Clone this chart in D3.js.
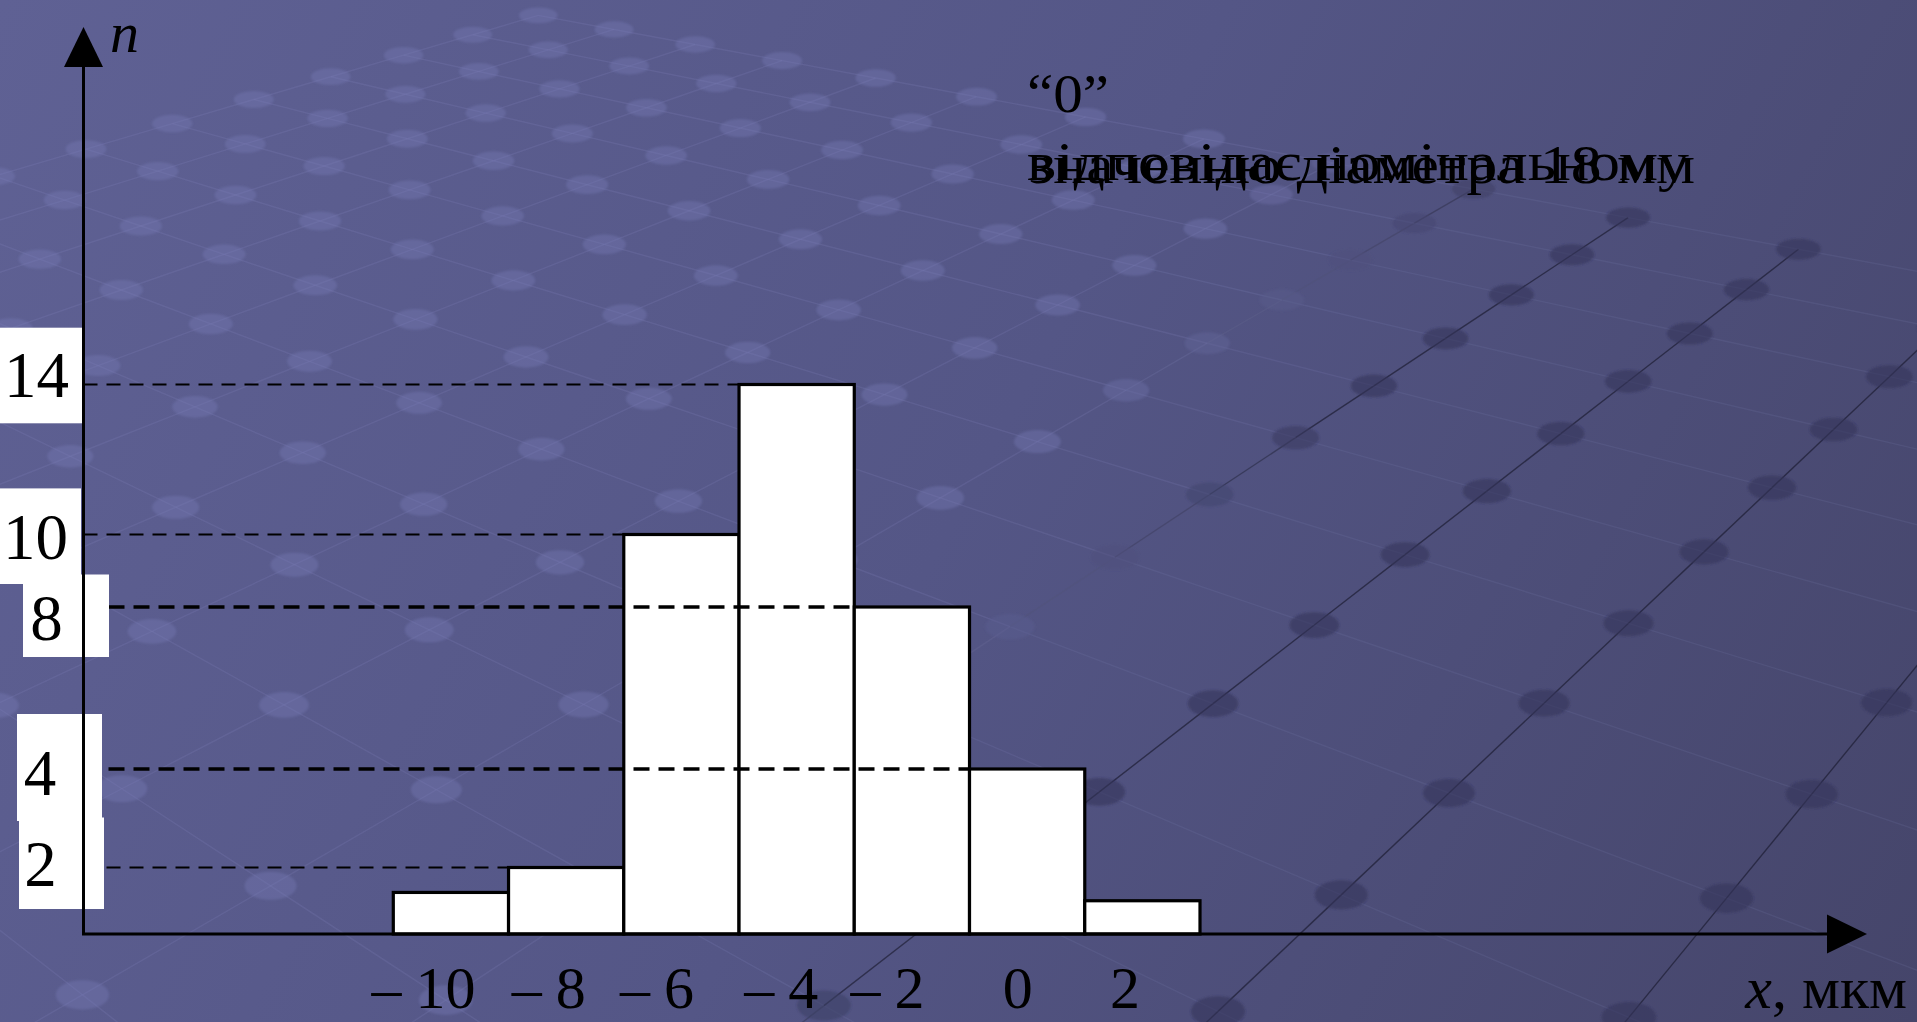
<!DOCTYPE html>
<html>
<head>
<meta charset="utf-8">
<script src="https://cdn.jsdelivr.net/npm/d3@7"></script>
<style>
  html, body { margin: 0; padding: 0; overflow: hidden; background: #535583; }
  svg { display: block; }
  text { font-family: "Liberation Serif", "DejaVu Serif", serif; fill: #000; }
</style>
</head>
<body>
<svg id="chart" width="1917" height="1022"></svg>
<script>
// ---- data: deviation classes (midpoints, µm) and their frequencies ----
const binCenters = [-10, -8, -6, -4, -2, 0, 2];
const binWidth = 2;
const counts = [1.25, 2, 10, 14, 8, 4, 1];
const yTickValues = [2, 4, 8, 10, 14];
const xTickValues = [-10, -8, -6, -4, -2, 0, 2];
const yAxisTitle = "n";
const xAxisTitle = "x";
const xAxisUnit = ", мкм";
const noteLines = ["“0”", "відповідає номінальному", "значенню діаметра 18 мм"];

// ---- layout ----
const W = 1917, H = 1022;
const axisX = 83.5, axisY = 934;
const yAxisTop = 27, xAxisEnd = 1867;
const arrowLen = 40, arrowHalf = 19.5;
// pixel stops of the (unevenly drawn) vertical axis, one per value in [0, ...yTickValues]
const yStops = [934, 867.5, 769, 607, 534.5, 384.5];
// per-label placement of the boxed vertical tick labels
const yLabelLayout = {
  14: { cx: 36.5, dy: 12,   x0: 0,  x1: 82.7, top: 68.8, bottom: 26.8 },
  10: { cx: 35.5, dy: 24.5, x0: 0,  x1: 81,   top: 70.6, bottom: 25 },
  8:  { cx: 46.5, dy: 32.5, x0: 23, x1: 109,  top: 65,   bottom: 17.5 },
  4:  { cx: 40,   dy: 25.6, x0: 17, x1: 102,  top: 80.6, bottom: 26.4 },
  2:  { cx: 40.5, dy: 18.5, x0: 19, x1: 104,  top: 68.5, bottom: 23 }
};
const guideWidth = { 14: 2.2, 10: 2.2, 8: 3.6, 4: 3.4, 2: 2.2 };
const xLabelNudge = [-6, 4, -3, 6, -3, -10, -18];
const labelFont = 60;

const svg = d3.select("#chart");
const defs = svg.append("defs");

// ---- slide background: diagonal gradient ----
const bg = defs.append("linearGradient").attr("id", "bgGrad")
  .attr("gradientUnits", "userSpaceOnUse")
  .attr("x1", 0).attr("y1", 0).attr("x2", W).attr("y2", H);
bg.append("stop").attr("offset", 0).attr("stop-color", "#5f6194");
bg.append("stop").attr("offset", 0.5).attr("stop-color", "#545686");
bg.append("stop").attr("offset", 1).attr("stop-color", "#45456a");
svg.append("rect").attr("width", W).attr("height", H).attr("fill", "url(#bgGrad)");

defs.append("filter").attr("id", "soft")
  .append("feGaussianBlur").attr("stdDeviation", 1.3);

// ---- decorative perspective lattice of lines and dots ----
// a plane seen in perspective: u runs towards vanishing point VA, v towards VB
const VA = [-1700, -400], VB = [3060, -730], O = [1449, 793];
const k1 = 0.081, k2 = 0.0627;
function proj(u, v) {
  const d = 1 + k1 * u + k2 * v;
  return { x: (O[0] + k1 * u * VA[0] + k2 * v * VB[0]) / d,
           y: (O[1] + k1 * u * VA[1] + k2 * v * VB[1]) / d, d };
}
const uMin = -9, uMax = 12, vMin = -16, vMax = 8;
const minDepth = 0.3;
// lighting: the far-right, lower part of the plane is in shade
const shade = p => Math.max(0, Math.min(1, (p.x + 0.8 * p.y - 1400) / 260));
const lineLight = "#8e91c9", lineDark = "#1b1b30";
const deco = svg.append("g").attr("class", "backdrop");
const segs = [];
for (let u = uMin; u <= uMax; u++) {
  for (let v = vMin; v <= vMax; v++) {
    const p = proj(u, v);
    if (p.d < minDepth) continue;
    if (u < uMax) {
      const q = proj(u + 1, v);
      if (q.d >= minDepth) segs.push({ a: p, b: q, kind: "A" });
    }
    if (v < vMax) {
      const q = proj(u, v + 1);
      if (q.d >= minDepth) segs.push({ a: p, b: q, kind: "B" });
    }
  }
}
const mid = s => ({ x: (s.a.x + s.b.x) / 2, y: (s.a.y + s.b.y) / 2 });
deco.append("g").selectAll("line").data(segs).join("line")
  .attr("x1", s => s.a.x).attr("y1", s => s.a.y)
  .attr("x2", s => s.b.x).attr("y2", s => s.b.y)
  .attr("stroke", s => d3.interpolateRgb(lineLight, lineDark)(s.kind === "B" ? shade(mid(s)) : 0))
  .attr("stroke-opacity", s => {
    const t = shade(mid(s));
    return s.kind === "B" ? 0.17 + 0.5 * t : 0.17 - 0.05 * t;
  })
  .attr("stroke-width", 1.4);

const dots = [];
for (let u = uMin; u <= uMax; u++) {
  for (let v = vMin; v <= vMax; v++) {
    const p = proj(u, v);
    if (p.d < minDepth) continue;
    if (p.x < -60 || p.x > W + 60 || p.y < -40 || p.y > H + 40) continue;
    dots.push(p);
  }
}
deco.append("g").attr("filter", "url(#soft)").selectAll("ellipse").data(dots).join("ellipse")
  .attr("cx", p => p.x).attr("cy", p => p.y)
  .attr("rx", p => 26 * Math.pow(p.d, -0.33))
  .attr("ry", p => 14 * Math.pow(p.d, -0.62))
  .attr("fill", p => d3.interpolateRgb("#777bb6", "#34345a")(shade(p)))
  .attr("fill-opacity", p => 0.38 + 0.2 * shade(p));

// ---- scales ----
const x = d3.scaleLinear()
  .domain([binCenters[0] - binWidth / 2, binCenters[binCenters.length - 1] + binWidth / 2])
  .range([393.3, 1200]);
const y = d3.scaleLinear().domain([0, ...yTickValues]).range(yStops);

const bins = binCenters.map((c, i) => ({ c, n: counts[i] }));

// ---- histogram bars ----
svg.append("g").attr("class", "bars")
  .selectAll("rect").data(bins).join("rect")
  .attr("x", d => x(d.c - binWidth / 2))
  .attr("width", d => x(d.c + binWidth / 2) - x(d.c - binWidth / 2))
  .attr("y", d => y(d.n))
  .attr("height", d => y(0) - y(d.n))
  .attr("fill", "#ffffff")
  .attr("stroke", "#000")
  .attr("stroke-width", 3.2);

// ---- dashed guides from the axis to the bar of each marked frequency ----
const guides = yTickValues.map(v => {
  const i = counts.indexOf(v);
  return { v, x2: x(binCenters[i] - binWidth / 2) };
});
svg.append("g").attr("class", "guides")
  .selectAll("line").data(guides).join("line")
  .attr("x1", axisX).attr("x2", d => d.x2)
  .attr("y1", d => y(d.v)).attr("y2", d => y(d.v))
  .attr("stroke", "#000")
  .attr("stroke-width", d => guideWidth[d.v])
  .attr("stroke-dasharray", d => guideWidth[d.v] > 3 ? "16 9" : "14 9");

// ---- boxed vertical tick labels ----
const yl = svg.append("g").attr("class", "y-labels");
yl.selectAll("rect").data(yTickValues).join("rect")
  .attr("x", v => yLabelLayout[v].x0)
  .attr("width", v => yLabelLayout[v].x1 - yLabelLayout[v].x0)
  .attr("y", v => y(v) + yLabelLayout[v].dy - yLabelLayout[v].top)
  .attr("height", v => yLabelLayout[v].top + yLabelLayout[v].bottom)
  .attr("fill", "#ffffff");
yl.selectAll("text").data(yTickValues).join("text")
  .attr("x", v => yLabelLayout[v].cx)
  .attr("y", v => y(v) + yLabelLayout[v].dy)
  .attr("text-anchor", "middle")
  .attr("font-size", 65)
  .text(v => v);

// ---- axes with arrowheads ----
const axes = svg.append("g").attr("class", "axes");
axes.append("line")
  .attr("x1", axisX).attr("y1", axisY).attr("x2", axisX).attr("y2", yAxisTop + arrowLen - 1)
  .attr("stroke", "#000").attr("stroke-width", 3);
axes.append("line")
  .attr("x1", axisX - 1.5).attr("y1", axisY).attr("x2", xAxisEnd - arrowLen + 1).attr("y2", axisY)
  .attr("stroke", "#000").attr("stroke-width", 3);
axes.append("path")
  .attr("d", `M${axisX},${yAxisTop} L${axisX - arrowHalf},${yAxisTop + arrowLen} L${axisX + arrowHalf},${yAxisTop + arrowLen} Z`)
  .attr("fill", "#000");
axes.append("path")
  .attr("d", `M${xAxisEnd},${axisY} L${xAxisEnd - arrowLen},${axisY - arrowHalf} L${xAxisEnd - arrowLen},${axisY + arrowHalf} Z`)
  .attr("fill", "#000");

// ---- horizontal tick labels (class midpoints) ----
const xAxis = d3.axisBottom(x)
  .tickValues(xTickValues)
  .tickSize(0)
  .tickPadding(31)
  .tickFormat(d => Math.abs(d));
const gx = svg.append("g").attr("class", "x-axis")
  .attr("transform", `translate(0,${axisY})`)
  .call(xAxis);
gx.select(".domain").remove();
gx.selectAll(".tick text")
  .attr("font-family", "Liberation Serif, serif")
  .attr("font-size", labelFont)
  .attr("fill", "#000")
  .attr("dx", (d, i) => xLabelNudge[i]);
gx.selectAll(".tick").each(function (d, i) {
  if (d >= 0) return;
  const t = d3.select(this).select("text");
  const w = t.node().getComputedTextLength();
  d3.select(this).append("text")
    .attr("x", xLabelNudge[i] - w / 2 - 14)
    .attr("y", t.attr("y"))
    .attr("dy", t.attr("dy"))
    .attr("text-anchor", "end")
    .attr("font-family", "Liberation Serif, serif")
    .attr("font-size", labelFont)
    .attr("fill", "#000")
    .text("–");
});

// ---- axis titles ----
svg.append("text")
  .attr("x", 110).attr("y", 52)
  .attr("font-size", 58).attr("font-style", "italic")
  .text(yAxisTitle);
const xt = svg.append("text")
  .attr("x", 1907).attr("y", 1008)
  .attr("text-anchor", "end")
  .attr("font-size", labelFont);
xt.append("tspan").attr("font-style", "italic").text(xAxisTitle);
xt.append("tspan").text(xAxisUnit);

// ---- note about the zero point (lines overlap as on the slide) ----
const note = svg.append("g").attr("class", "note");
note.append("text").attr("x", 1027).attr("y", 112)
  .attr("font-size", 55).attr("textLength", 82).attr("lengthAdjust", "spacingAndGlyphs")
  .text(noteLines[0]);
note.append("text").attr("x", 1027).attr("y", 180)
  .attr("font-size", 55).attr("textLength", 662).attr("lengthAdjust", "spacingAndGlyphs")
  .text(noteLines[1]);
note.append("text").attr("x", 1029).attr("y", 183)
  .attr("font-size", 55).attr("textLength", 666).attr("lengthAdjust", "spacingAndGlyphs")
  .text(noteLines[2]);
</script>
</body>
</html>
